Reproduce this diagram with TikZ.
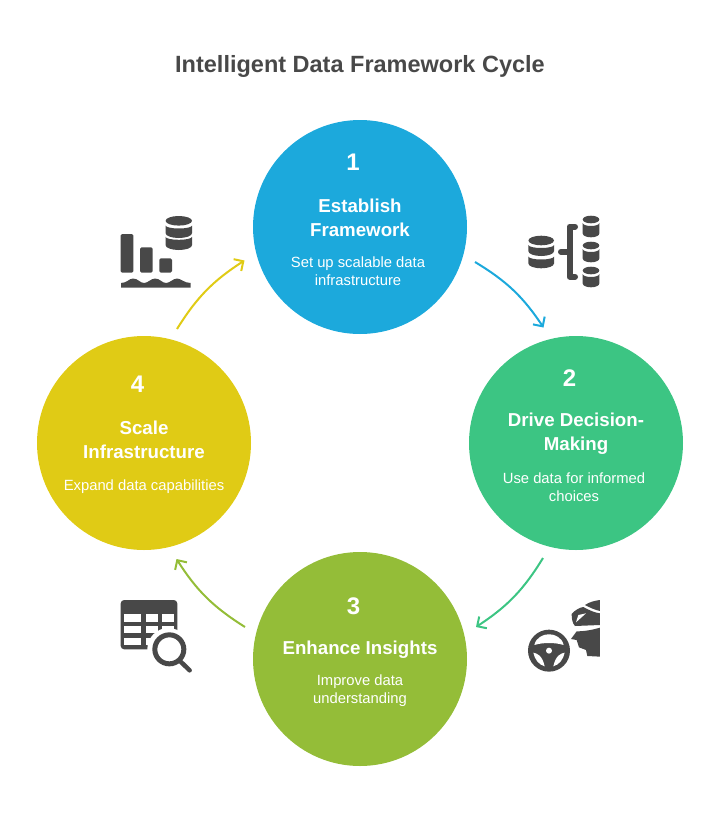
\documentclass[tikz,border=0pt]{standalone}
\usepackage{fontspec}
\setmainfont{Liberation Sans}
\usetikzlibrary{arrows.meta}
\definecolor{ic}{HTML}{484848}
\definecolor{cA}{HTML}{1CA9DC}
\definecolor{cB}{HTML}{3CC583}
\definecolor{cC}{HTML}{94BD38}
\definecolor{cD}{HTML}{E0CB15}
\tikzset{
  stage/.style={circle,draw=none,minimum size=214pt,inner sep=0pt},
  num/.style={text=white,font=\bfseries\fontsize{24}{24}\selectfont,anchor=center},
  head/.style={text=white,font=\bfseries\fontsize{18.7}{24}\selectfont,align=center,anchor=center},
  desc/.style={text=white,font=\fontsize{14.8}{18}\selectfont,align=center,anchor=center},
  cyc/.style={line width=2pt,-{Straight Barb[length=7pt,width=14pt,line width=2pt]}},
  zoomA/.style={shift={(#1)},x=0.3333pt,y=-0.3333pt}
}
\newcommand{\dbtop}[4]{\fill[ic] (#1,#4+#3) ellipse[x radius=#2 pt,y radius=#3 pt];}
% band: cx, rx, ry, y of upper corners, y of lower corners
\newcommand{\dbband}[5]{\fill[ic] ({#1-#2},#4) -- ({#1-#2},#5) arc[start angle=180,end angle=360,x radius=#2 pt,y radius=#3 pt] -- ({#1+#2},#4) arc[start angle=0,end angle=-180,x radius=#2 pt,y radius=3 pt] -- cycle;}
\begin{document}
\begin{tikzpicture}[x=1pt,y=-1pt]
\useasboundingbox (0,0) rectangle (720,828);
\node[text=ic,font=\bfseries\fontsize{23.5}{24}\selectfont] (title) at (360,66.5) {Intelligent Data Framework Cycle};

\node[stage,fill=cA] (s1) at (360,227) {};
\node[stage,fill=cB] (s2) at (576,443) {};
\node[stage,fill=cC] (s3) at (360,659) {};
\node[stage,fill=cD] (s4) at (144,443) {};

\node[num] (n1) at (353,162.5) {1};
\node[head] (h1) at (360,217.5) {Establish\\Framework};
\node[desc] (d1) at (358,271) {Set up scalable data\\infrastructure};

\node[num] (n2) at (569.5,378.5) {2};
\node[head] (h2) at (576,433.5) {Drive Decision-\\Making};
\node[desc] (d2) at (574,487) {Use data for informed\\choices};

\node[num] (n3) at (353.5,606.5) {3};
\node[head] (h3) at (360,650) {Enhance Insights};
\node[desc] (d3) at (360,691) {Improve data\\understanding};

\node[num] (n4) at (137.5,384.5) {4};
\node[head] (h4) at (144,439.5) {Scale\\Infrastructure};
\node[desc] (d4) at (144,487) {Expand data capabilities};

\coordinate (a1) at (475,262);
\coordinate (b1) at (543.5,327.5);
\coordinate (a2) at (543,558);
\coordinate (b2) at (476,627);
\coordinate (a3) at (245,627);
\coordinate (b3) at (176.5,559);
\coordinate (a4) at (177,329);
\coordinate (b4) at (244.5,260.5);
\draw[cyc,cA] (a1) to[bend left=12.6] (b1);
\draw[cyc,cB] (a2) to[bend left=12.6] (b2);
\draw[cyc,cC] (a3) to[bend left=12.6] (b3);
\draw[cyc,cD] (a4) to[bend left=12.6] (b4);

% icon: scale infrastructure
\fill[ic,rounded corners=1.5pt] (120.7,234) rectangle (133.3,272.7);
\fill[ic,rounded corners=1.5pt] (140,247.3) rectangle (152.7,272.7);
\fill[ic,rounded corners=1.5pt] (159.3,258.3) rectangle (172,272.7);
\fill[ic] (121,287.7) -- (121,283) .. controls (127,283) and (129,278.5) .. (133,278.5)
  .. controls (138,278.5) and (140,283) .. (144,283) .. controls (148,283) and (151,278.5) .. (155,278.5)
  .. controls (160,278.5) and (162,283) .. (166,283) .. controls (170,283) and (173,278.5) .. (177,278.5)
  .. controls (181,278.5) and (184,283) .. (190.7,283) -- (190.7,287.7) -- cycle;
\dbtop{178.8}{13.2}{4.8}{216}
\dbband{178.8}{13.2}{4.8}{225.5}{233.2}
\dbband{178.8}{13.2}{4.8}{236.8}{245.2}

% icon: data bracket
\dbtop{541.2}{12.8}{4.8}{235.7}
\dbband{541.2}{12.8}{4.8}{245}{251.2}
\dbband{541.2}{12.8}{4.8}{256.5}{263.5}
\dbtop{591}{8.3}{3.8}{215.7}
\dbband{591}{8.3}{3.8}{223}{233.5}
\dbtop{591}{8.3}{3.8}{241.7}
\dbband{591}{8.3}{3.8}{249}{258.5}
\dbtop{591}{8.3}{3.8}{266.7}
\dbband{591}{8.3}{3.8}{274}{283.5}
\draw[ic,line width=6pt,line cap=round,line join=round] (575,226.7) -- (569.5,226.7) -- (569.5,276.7) -- (575,276.7);
\draw[ic,line width=6pt,line cap=round] (561,251.7) -- (569.5,251.7);

% icon: steering wheel and driver
\begin{scope}[zoomA={510,590}]
  \fill[ic] (117,182) circle[radius=21pt];
  \fill[white] (73,165) .. controls (83,122) and (151,122) .. (161,165) .. controls (135,157) and (99,157) .. (73,165) -- cycle;
  \fill[white] (70,188) .. controls (82,190) and (97,197) .. (104,229) .. controls (86,224) and (74,208) .. (70,188) -- cycle;
  \fill[white] (164,188) .. controls (152,190) and (137,197) .. (130,229) .. controls (148,224) and (160,208) .. (164,188) -- cycle;
  \fill[white] (117,182) circle[radius=3pt];
  \fill[ic] (225,45) .. controls (240,35) and (255,32) .. (270,30) -- (270,63) .. controls (255,60) and (238,52) .. (225,45) -- cycle;
  \fill[ic] (185,72) .. controls (195,60) and (210,52) .. (220,51) .. controls (240,62) and (255,68) .. (270,70) -- (270,105) -- (195,108) .. controls (187,100) and (185,85) .. (185,72) -- cycle;
  \fill[white] (205,75) -- (228,70) -- (198,97) -- cycle;
  \fill[ic] (183,147) -- (200,124) .. controls (225,124) and (250,119) .. (270,113) -- (270,200) -- (232,198) -- (228,180) -- (207,172) -- (200,150) -- cycle;
\end{scope}

% icon: table and magnifier
\begin{scope}[zoomA={105,590}]
  \fill[ic,rounded corners=3.5pt] (47,30) rectangle (217,178);
  \foreach \ya/\yb in {72/95,107/130,143/165}
    \foreach \xa/\xb in {58/108,122/160,172/207}
      \fill[white] (\xa,\ya) rectangle (\xb,\yb);
  \fill[white] (190,177) circle[radius=21pt];
  \fill[white] (232,240) circle[radius=8pt];
  \draw[ic,line width=5pt] (193,178) circle[radius=14.5pt];
  \draw[ic,line width=4.5pt,line cap=round] (226,214) -- (254,241);
\end{scope}
\end{tikzpicture}
\end{document}
